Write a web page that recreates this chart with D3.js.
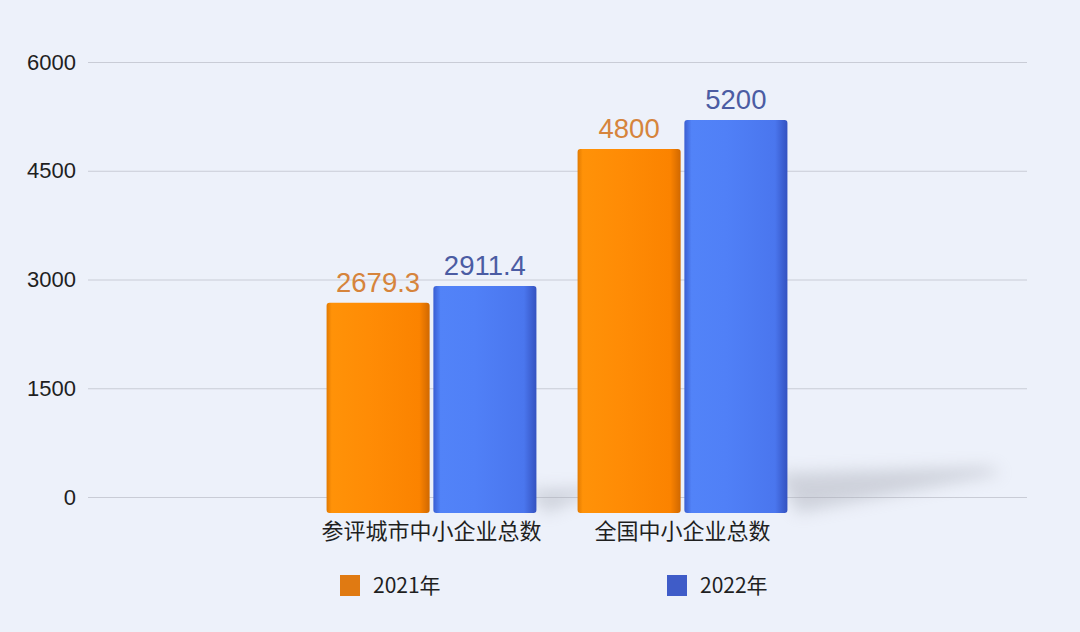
<!DOCTYPE html>
<html><head><meta charset="utf-8">
<script src="https://cdn.jsdelivr.net/npm/d3@7"></script>
<style>html,body{margin:0;padding:0;background:#edf1fa;}svg{display:block;}</style>
</head><body>
<svg id="c" width="1080" height="632"></svg>
<script>
const categories = ["参评城市中小企业总数", "全国中小企业总数"];
const seriesNames = ["2021年", "2022年"];
const values2021 = [2679.3, 4800];
const values2022 = [2911.4, 5200];
const yTicks = [0, 1500, 3000, 4500, 6000];
const labels2021 = ["2679.3", "4800"];
const labels2022 = ["2911.4", "5200"];

const svg = d3.select("#c");
const W = 1080, H = 632;
svg.append("rect").attr("width", W).attr("height", H).attr("fill", "#edf1fa");

const defs = svg.append("defs");
function grad(id, stops){
  const g = defs.append("linearGradient").attr("id", id).attr("x1","0").attr("x2","1").attr("y1","0").attr("y2","0");
  stops.forEach(s => g.append("stop").attr("offset", s[0]).attr("stop-color", s[1]));
}
grad("gOr", [[0,"#e27a00"],[0.05,"#ff9208"],[0.4,"#ff8c05"],[0.9,"#fb8300"],[1,"#d06800"]]);
grad("gBl", [[0,"#3a5ed2"],[0.07,"#5283f8"],[0.4,"#5080f7"],[0.88,"#4a76ee"],[1,"#3452c0"]]);
defs.append("filter").attr("id","blur").attr("x","-50%").attr("y","-50%").attr("width","200%").attr("height","200%")
  .append("feGaussianBlur").attr("stdDeviation", 8);

const y = d3.scaleLinear().domain([0, 6000]).range([497, 62]);
const x0 = d3.scaleBand().domain(categories).range([306, 808]).paddingInner(0.164).paddingOuter(0.082);
const x1 = d3.scaleBand().domain(seriesNames).range([0, x0.bandwidth()]).paddingInner(0.035);

// grid
svg.append("g").selectAll("line").data(yTicks).join("line")
  .attr("x1", 88).attr("x2", 1027)
  .attr("y1", d => y(d) + 0.5).attr("y2", d => y(d) + 0.5)
  .attr("stroke", "#c9ccd6").attr("stroke-width", 1);

// y axis labels
const yAxis = d3.axisLeft(y).tickValues(yTicks).tickSize(0).tickPadding(0).tickFormat(d3.format("d"));
const ya = svg.append("g").attr("transform", "translate(76,0)").call(yAxis);
ya.select(".domain").remove();
ya.selectAll("text").attr("font-family", "Liberation Sans, Arial, sans-serif").attr("font-size", 22).attr("fill", "#1f1f1f");

// shadows
const depth = 16;
const shadowG = svg.append("g").attr("filter", "url(#blur)").attr("opacity", 0.45);
categories.forEach((c, i) => {
  const xr = x0(c) + x0.bandwidth();
  const h = (i === 1) ? 1 : 0.3;
  const pts = [[xr - 10, y(0) - 24*h], [xr + 200*h, y(0) - 30*h], [xr + 215*h, y(0) - 24*h], [xr + 10, y(0) + depth]];
  shadowG.append("path").attr("d", d3.line()(pts) + "Z").attr("fill", "#a9acb6");
});

// bars
const data = categories.map((c, i) => ({cat: c, vals: [
  {s: seriesNames[0], v: values2021[i], label: labels2021[i]},
  {s: seriesNames[1], v: values2022[i], label: labels2022[i]}]}));
const fills = {"2021年": "url(#gOr)", "2022年": "url(#gBl)"};
const labelColors = {"2021年": "#d6843c", "2022年": "#4b5ca3"};
const groups = svg.selectAll("g.grp").data(data).join("g").attr("class","grp")
  .attr("transform", d => `translate(${x0(d.cat)},0)`);
groups.selectAll("rect").data(d => d.vals).join("rect")
  .attr("x", d => x1(d.s)).attr("width", x1.bandwidth())
  .attr("y", d => y(d.v)).attr("height", d => y(0) - y(d.v) + depth)
  .attr("rx", 3).attr("fill", d => fills[d.s]);
groups.selectAll("text").data(d => d.vals).join("text")
  .attr("x", d => x1(d.s) + x1.bandwidth()/2).attr("y", d => y(d.v) - 11)
  .attr("text-anchor", "middle")
  .attr("font-family", "Liberation Sans, Arial, sans-serif").attr("font-size", 27.5)
  .attr("fill", d => labelColors[d.s]).text(d => d.label);

// category labels
svg.append("g").selectAll("text").data(categories).join("text")
  .attr("x", d => x0(d) + x0.bandwidth()/2).attr("y", 539)
  .attr("text-anchor", "middle")
  .attr("font-family", "Noto Sans CJK SC, sans-serif").attr("font-size", 22)
  .attr("fill", "#1f1f1f").text(d => d);

// legend
const legendX = [340, 667];
const legendColors = ["#e07a12", "#3f5cc8"];
const lg = svg.append("g").selectAll("g").data(seriesNames).join("g")
  .attr("transform", (d, i) => `translate(${legendX[i]},575)`);
lg.append("rect").attr("width", 20).attr("height", 21).attr("fill", (d, i) => legendColors[i]);
lg.append("text").attr("x", 33).attr("y", 18)
  .attr("font-family", "Noto Sans CJK SC, sans-serif").attr("font-size", 21)
  .attr("fill", "#1f1f1f").text(d => d);
</script>
</body></html>
